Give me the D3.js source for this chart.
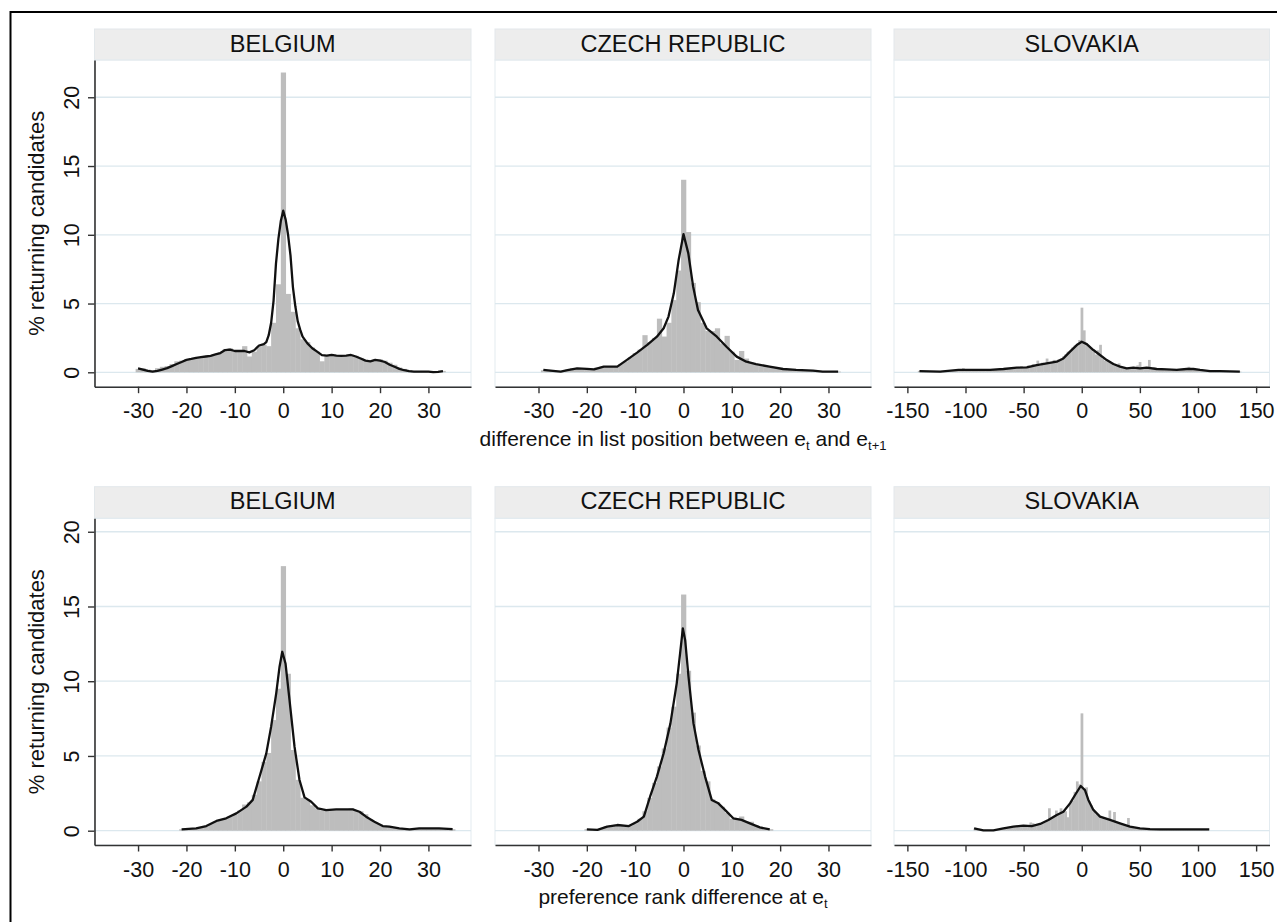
<!DOCTYPE html>
<html>
<head>
<meta charset="utf-8">
<script src="https://cdn.jsdelivr.net/npm/d3@7"></script>
<style>
  body { margin: 0; background: #fff; }
  text { font-family: "Liberation Sans", Arial, sans-serif; fill: #111; }
</style>
</head>
<body>
<svg id="chart" width="1277" height="922"></svg>
<script>
// panel titles and axis ticks
const countries = ['BELGIUM', 'CZECH REPUBLIC', 'SLOVAKIA'];
const yTicks = [0, 5, 10, 15, 20];
const xTicksSmall = [-30, -20, -10, 0, 10, 20, 30];
const xTicksLarge = [-150, -100, -50, 0, 50, 100, 150];

// --- top row: difference in list position (bins of width 1, slovakia width 2)
const belListStart = -30;
const belListBars = [0.25,0.3,0.2,0.15,0.3,0.4,0.45,0.6,0.8,0.85,
  0.95,1.0,1.05,1.05,1.15,1.2,1.3,1.45,1.7,1.75,
  1.6,1.5,1.9,1.15,1.5,1.9,2.0,1.9,3.6,6.4,
  21.8,5.7,4.4,3.2,2.4,2.2,1.8,1.5,0.8,1.2,
  1.25,1.2,1.15,1.2,1.3,1.2,1.05,0.9,0.85,0.95,
  0.95,0.85,0.7,0.55,0.35,0.25,0.15,0.1,0.1,0.1,
  0.05,0.05,0.05,0.1];
const belListLineX = [-30,-29,-28,-27,-26,-25,-24,-23,-22,-21,-20,-19,-18,-17,-16,-15,-14,-13,-12,-11,-10,-9,-8,-7,-6,-5,-4,-3.5,-3,-2.5,-2,-1.5,-1,-0.5,0,0.5,1,1.5,2,2.5,3,3.5,4,5,6,7,8,9,10,11,12,13,14,15,16,17,18,19,20,21,22,23,24,25,26,27,28,29,30,31,32,33];
const belListLineY = [0.29,0.2,0.1,0.05,0.1,0.2,0.3,0.45,0.6,0.75,0.9,0.97,1.05,1.1,1.15,1.2,1.3,1.4,1.62,1.65,1.55,1.55,1.55,1.45,1.6,1.95,2.05,2.2,2.7,3.6,5.2,7.9,9.7,11.0,11.75,11.1,10.0,8.5,6.2,4.8,3.7,3.1,2.6,2.1,1.75,1.5,1.25,1.22,1.26,1.22,1.19,1.22,1.26,1.15,1.0,0.85,0.8,0.9,0.85,0.75,0.55,0.4,0.25,0.15,0.08,0.05,0.05,0.05,0.05,0.02,0.03,0.08];

const czListStart = -29;
const czListBars = [0.15,0.15,0.1,0.05,0.1,0.2,0.3,0.3,0.25,0.25,
  0.25,0.35,0.4,0.4,0.4,0.45,0.6,0.8,1.1,1.4,
  1.65,2.7,2.2,2.5,3.9,2.6,3.6,5.25,7.4,14.0,
  10.2,6.5,5.1,3.6,3.0,3.0,3.2,2.1,2.65,1.5,
  0.9,1.55,1.0,0.7,0.6,0.55,0.45,0.4,0.3,0.25,
  0.2,0.2,0.15,0.15,0.15,0.1,0.1,0.08,0.05,0.05,
  0.05,0.05];
const czListLineX = [-29,-27,-25.4,-24,-22,-20,-18.5,-16.5,-13.7,-11.7,-9.6,-7.5,-5.5,-4.1,-3.1,-2,-1,0,1,2,3,4.8,6.9,8.9,11,13,15,17.8,20.6,23.3,26.8,28.8,32];
const czListLineY = [0.17,0.1,0.05,0.15,0.29,0.25,0.22,0.41,0.41,0.9,1.43,1.99,2.59,3.2,4.05,5.74,8.17,10.05,8.65,6.23,4.53,3.2,2.59,1.86,1.14,0.77,0.6,0.41,0.24,0.17,0.12,0.05,0.05];

const skListStart = -140;
const skListBars = [0.1,0.05,0.05,0.05,0.05,0.05,0.05,0.05,0.05,0.05,0.1,0.1,0.1,0.1,0.15,0.15,0.2,0.15,0.2,0.3,0.2,
  0.15,0.15,0.2,0.15,0.15,0.2,0.15,0.15,0.2,0.15,0.15,0.2,0.2,0.15,0.25,0.3,0.2,0.25,0.3,
  0.3,0.35,0.3,0.4,0.45,0.35,0.4,0.5,0.45,0.6,0.55,0.85,0.5,0.7,0.6,1.0,0.7,0.75,0.9,0.8,
  0.95,1.0,1.15,1.3,1.5,1.55,1.8,1.95,2.0,2.35,
  4.7,
  3.05,2.1,1.9,1.75,1.5,1.3,1.6,2.0,1.0,0.85,
  0.8,0.7,0.6,0.55,0.45,0.65,0.4,0.35,0.3,0.35,0.3,0.35,0.3,0.5,0.75,0.3,0.35,0.3,0.9,0.3,
  0.35,0.25,0.3,0.2,0.25,0.2,0.2,0.15,0.2,0.15,0.2,0.15,0.25,0.3,0.25,0.4,0.3,0.2,0.25,0.2,
  0.15,0.1,0.15,0.1,0.1,0.05,0.05,0.05,0.05,0.05,0.05,0.05,0.05,0.05,0.05,0.05,0.05,0.05];
const skListLineX = [-139.6,-121.8,-106,-93.2,-78.8,-67.4,-55.9,-47.3,-38.7,-30.1,-21.5,-15.8,-10.1,-4.3,0,4.3,10,15.7,21.5,27.2,32.9,38.7,44.4,50.1,55.9,64.5,73.1,81.7,90.3,96,101.7,110.3,118.9,136];
const skListLineY = [0.09,0.05,0.17,0.17,0.17,0.24,0.34,0.36,0.53,0.65,0.77,1.01,1.5,1.98,2.22,2.05,1.62,1.26,0.89,0.6,0.41,0.29,0.34,0.29,0.34,0.24,0.21,0.17,0.24,0.24,0.17,0.09,0.09,0.05];

// --- bottom row: preference rank difference
const belPrefStart = -21;
const belPrefBars = [0.1,0.1,0.1,0.15,0.2,0.3,0.45,0.6,0.75,0.8,
  0.95,1.1,1.35,1.75,1.9,2.4,3.3,4.6,5.2,7.4,
  9.5,17.7,10.5,5.4,3.4,2.2,2.1,1.7,1.5,1.35,
  1.4,1.4,1.45,1.4,1.4,1.5,1.35,1.3,1.1,0.75,
  0.55,0.4,0.3,0.25,0.2,0.15,0.1,0.1,0.15,0.15,
  0.15,0.15,0.15,0.15,0.1,0.1,0.1];
const belPrefLineX = [-21,-18,-15.9,-13.8,-11.8,-9.7,-7.6,-6.3,-4.9,-3.5,-2.5,-1.45,-0.76,-0.2,0.47,1.3,2.33,3.36,4.4,5.78,7.15,8.87,10.93,12.31,14.37,15.75,17.12,18.84,20.56,21.94,24,26.1,28.1,30.1,32.2,35];
const belPrefLineY = [0.09,0.16,0.31,0.65,0.83,1.16,1.61,2.06,3.61,5.17,6.96,9.19,10.97,11.97,11.19,8.74,5.62,3.39,2.23,1.94,1.49,1.38,1.43,1.43,1.43,1.27,0.94,0.6,0.31,0.27,0.16,0.09,0.16,0.16,0.16,0.11];

const czPrefStart = -20;
const czPrefBars = [0.1,0.05,0.1,0.15,0.3,0.35,0.4,0.35,0.3,0.35,
  0.5,0.8,1.3,2.2,3.2,4.3,5.5,6.9,8.3,10.5,
  15.8,10.7,7.9,5.7,4.0,3.3,2.1,1.9,1.6,1.2,
  0.8,0.85,0.95,0.6,0.6,0.35,0.2,0.1,0.1];
const czPrefLineX = [-20,-17.8,-15.8,-13.7,-11.3,-9.6,-8.2,-6.9,-5.5,-4.1,-2.7,-1.4,-0.7,-0.13,0.35,1.04,2.07,3.1,4.47,5.84,7.21,8.59,10.3,12,13.74,15.8,17.85];
const czPrefLineY = [0.09,0.05,0.27,0.38,0.31,0.6,0.94,2.29,3.62,5.18,7.18,9.86,11.86,13.53,12.75,10.3,7.18,5.41,3.62,2.06,1.83,1.39,0.83,0.72,0.49,0.22,0.09];

const skPrefStart = -92;
const skPrefBars = [0.15,0.1,0.05,0.05,0.05,0.05,0.05,0.05,0.05,0.1,
  0.1,0.15,0.15,0.2,0.2,0.25,0.3,0.25,0.3,0.3,
  0.35,0.3,0.3,0.35,0.55,0.5,0.35,0.4,0.45,0.5,
  0.55,0.65,1.5,0.9,1.0,1.35,1.1,1.5,1.25,1.3,
  0.9,1.8,2.0,2.6,3.3,3.1,7.85,2.8,2.9,2.0,
  1.7,1.3,1.1,1.0,0.9,0.85,0.8,0.75,1.35,0.7,
  1.25,0.6,0.5,0.45,0.4,0.35,0.85,0.3,0.25,0.2,
  0.15,0.15,0.1,0.1,0.1,0.1,0.1,0.1,0.1,0.1,
  0.1,0.1,0.1,0.1,0.1,0.1,0.1,0.1,0.1,0.1,
  0.1,0.1,0.1,0.1,0.1,0.1,0.1,0.1,0.1,0.1,
  0.1];
const skPrefLineX = [-92.6,-84.6,-76,-67.4,-58.8,-50.2,-43,-35.8,-28.7,-21.5,-15.8,-10.1,-5.76,-0.89,2.8,5.7,10,15.7,24.3,32.9,41.5,50.1,58.7,67.3,81.7,96,109.7];
const skPrefLineY = [0.16,0.02,0.02,0.16,0.27,0.34,0.31,0.45,0.71,1.05,1.27,1.83,2.39,2.99,2.72,2.06,1.39,0.94,0.72,0.49,0.27,0.16,0.11,0.09,0.09,0.09,0.09];

// layout
const cols = [
  { x0: 94.5, x1: 471, dom: [-39, 38.8], ticks: xTicksSmall },
  { x0: 495, x1: 871, dom: [-39, 38.8], ticks: xTicksSmall },
  { x0: 894, x1: 1269.5, dom: [-161.5, 161.5], ticks: xTicksLarge }
];
const rows = [
  { head: 29, top: 60, bottom: 386.7, dom: [-1.047, 22.71] },
  { head: 486.7, top: 518.3, bottom: 845, dom: [-0.957, 20.9] }
];

const panels = [
  { r: 0, c: 0, start: belListStart, w: 1, bars: belListBars, lx: belListLineX, ly: belListLineY },
  { r: 0, c: 1, start: czListStart, w: 1, bars: czListBars, lx: czListLineX, ly: czListLineY },
  { r: 0, c: 2, start: skListStart, w: 2, bars: skListBars, lx: skListLineX, ly: skListLineY },
  { r: 1, c: 0, start: belPrefStart, w: 1, bars: belPrefBars, lx: belPrefLineX, ly: belPrefLineY },
  { r: 1, c: 1, start: czPrefStart, w: 1, bars: czPrefBars, lx: czPrefLineX, ly: czPrefLineY },
  { r: 1, c: 2, start: skPrefStart, w: 2, bars: skPrefBars, lx: skPrefLineX, ly: skPrefLineY }
];

const svg = d3.select('#chart');
const font = '"Liberation Sans", Arial, sans-serif';
const fmt = d => String(d); // plain hyphen for negatives, like the original

// outer frame (only top/left edges fall inside the picture)
svg.append('rect')
  .attr('x', 10.5).attr('y', 12)
  .attr('width', 1300).attr('height', 950)
  .attr('fill', 'none').attr('stroke', '#000').attr('stroke-width', 2);

const gridColor = '#dce8ee';

panels.forEach(p => {
  const col = cols[p.c], row = rows[p.r];
  const x = d3.scaleLinear().domain(col.dom).range([col.x0, col.x1]);
  const y = d3.scaleLinear().domain(row.dom).range([row.bottom, row.top]);
  const g = svg.append('g');

  // header strip
  g.append('rect')
    .attr('x', col.x0).attr('y', row.head)
    .attr('width', col.x1 - col.x0).attr('height', row.top - row.head)
    .attr('fill', '#ededed').attr('stroke', '#e3e8eb').attr('stroke-width', 1);
  g.append('text')
    .attr('x', (col.x0 + col.x1) / 2).attr('y', row.head + 22.6)
    .attr('text-anchor', 'middle')
    .attr('font-size', 23.5)
    .text(countries[p.c]);

  // plot region outline + grid
  g.append('rect')
    .attr('x', col.x0).attr('y', row.top)
    .attr('width', col.x1 - col.x0).attr('height', row.bottom - row.top)
    .attr('fill', 'none').attr('stroke', '#e3ebf0').attr('stroke-width', 1);
  g.append('g')
    .selectAll('line')
    .data(yTicks)
    .enter().append('line')
    .attr('x1', col.x0).attr('x2', col.x1)
    .attr('y1', d => y(d)).attr('y2', d => y(d))
    .attr('stroke', gridColor).attr('stroke-width', 1.3);

  // histogram bars
  g.append('g')
    .selectAll('rect')
    .data(p.bars)
    .enter().append('rect')
    .attr('x', (d, i) => x(p.start + i * p.w - p.w / 2))
    .attr('width', (d, i) => x(p.start + i * p.w + p.w / 2) - x(p.start + i * p.w - p.w / 2) + 0.4)
    .attr('y', d => y(d))
    .attr('height', d => y(0) - y(d))
    .attr('fill', '#bdbdbd');

  // smoothed line
  const pts = p.lx.map((v, i) => [v, p.ly[i]]);
  g.append('path')
    .datum(pts)
    .attr('fill', 'none')
    .attr('stroke', '#111')
    .attr('stroke-width', 2.3)
    .attr('stroke-linejoin', 'round')
    .attr('d', d3.line().x(d => x(d[0])).y(d => y(d[1])));

  // x axis
  const xa = g.append('g')
    .attr('transform', `translate(0,${row.bottom})`)
    .call(d3.axisBottom(x).tickValues(col.ticks).tickFormat(fmt).tickSize(6.5).tickPadding(10).tickSizeOuter(0));
  xa.select('.domain').attr('stroke', '#333').attr('stroke-width', 1.6);
  xa.selectAll('.tick line').attr('stroke', '#333').attr('stroke-width', 1.4);
  xa.selectAll('.tick text')
    .attr('font-size', 21.5)
    .attr('font-family', font)
    .attr('fill', '#111');

  // y axis only in first column
  if (p.c === 0) {
    const ya = g.append('g')
      .attr('transform', `translate(${col.x0},0)`)
      .call(d3.axisLeft(y).tickValues(yTicks).tickFormat(fmt).tickSize(6.5).tickSizeOuter(0));
    ya.select('.domain').attr('stroke', '#333').attr('stroke-width', 1.6);
    ya.selectAll('.tick line').attr('stroke', '#333').attr('stroke-width', 1.4);
    ya.selectAll('.tick text')
      .attr('font-size', 21.5)
      .attr('font-family', font)
      .attr('fill', '#111')
      .attr('x', null).attr('dy', null)
      .attr('text-anchor', 'middle')
      .attr('transform', 'translate(-16,0) rotate(-90)');

    svg.append('text')
      .attr('transform', `translate(44,${(row.top + row.bottom) / 2}) rotate(-90)`)
      .attr('text-anchor', 'middle')
      .attr('font-size', 22)
      .text('% returning candidates');
  }
});

// x axis titles with subscripts
const t1 = svg.append('text')
  .attr('x', 683).attr('y', rows[0].bottom + 59)
  .attr('text-anchor', 'middle').attr('font-size', 21);
t1.append('tspan').text('difference in list position between e');
t1.append('tspan').attr('font-size', 13).attr('dy', 4).text('t');
t1.append('tspan').attr('dy', -4).text(' and e');
t1.append('tspan').attr('font-size', 13).attr('dy', 4).text('t+1');

const t2 = svg.append('text')
  .attr('x', 683).attr('y', rows[1].bottom + 59)
  .attr('text-anchor', 'middle').attr('font-size', 21);
t2.append('tspan').text('preference rank difference at e');
t2.append('tspan').attr('font-size', 13).attr('dy', 4).text('t');
</script>
</body>
</html>
